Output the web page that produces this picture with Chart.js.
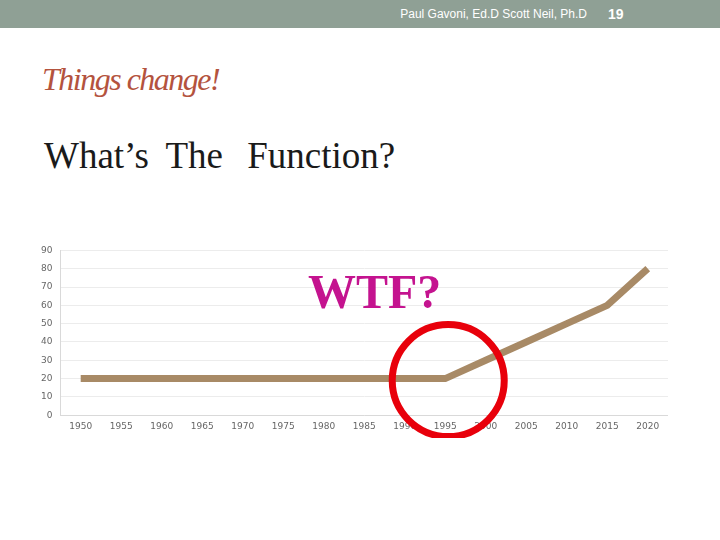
<!DOCTYPE html>
<html>
<head>
<meta charset="utf-8">
<script src="https://cdn.jsdelivr.net/npm/chart.js@4"></script>
<style>
  body { margin: 0; width: 720px; height: 540px; background: #fff; position: relative; overflow: hidden; }
  #bar { position: absolute; left: 0; top: 0; width: 720px; height: 28px; background: #8fa095; }
  #authors { position: absolute; right: 133px; top: 7px; color: #fff; font: 12px "Liberation Sans", Arial, sans-serif; }
  #page { position: absolute; left: 608px; top: 6px; color: #fff; font: bold 14px "Liberation Sans", Arial, sans-serif; }
  #sub { position: absolute; left: 42px; top: 61px; color: #b4533e; font: italic 32px "Liberation Serif", serif; letter-spacing: -1.5px; }
  #title { position: absolute; left: 44px; top: 134px; color: #1a1a1a; font: 37px "Liberation Serif", "Times New Roman", serif; word-spacing: 8px; }
  #title span { margin-left: 7px; }
  #wtf { position: absolute; left: 308px; top: 264px; color: #c4138f; font: bold 48px "Liberation Serif", serif; }
  #wrap { position: absolute; left: 33px; top: 237px; width: 635px; height: 201px; }
</style>
</head>
<body>
<div id="bar"></div>
<div id="authors">Paul Gavoni, Ed.D  Scott Neil, Ph.D</div>
<div id="page">19</div>
<div id="sub">Things change!</div>
<div id="title">What’s The <span>Function?</span></div>
<div id="wrap"><canvas id="chart"></canvas></div>
<div id="wtf">WTF?</div>
<script>
const years = ['1950', '1955', '1960', '1965', '1970', '1975', '1980', '1985', '1990', '1995', '2000', '2005', '2010', '2015', '2020'];
const values = [20, 20, 20, 20, 20, 20, 20, 20, 20, 20, 30, 40, 50, 60, 80];
const circleYear = '1995';
const circleValue = 20;

// red ring around the turning point
const ringPlugin = {
    id: 'ring',
    afterDatasetsDraw(chart) {
        const ctx = chart.ctx;
        const x = chart.scales.x.getPixelForValue(years.indexOf(circleYear));
        const y = chart.scales.y.getPixelForValue(circleValue);
        ctx.save();
        ctx.beginPath();
        ctx.ellipse(x + 3, y + 2, 56, 56, 0, 0, Math.PI * 2);
        ctx.strokeStyle = '#e8000b';
        ctx.lineWidth = 7;
        ctx.stroke();
        ctx.restore();
    }
};

new Chart(document.getElementById('chart'), {
    type: 'line',
    data: {
        labels: years,
        datasets: [{
            data: values,
            borderColor: '#a88a66',
            borderWidth: 7,
            pointRadius: 0,
            tension: 0
        }]
    },
    options: {
        responsive: true,
        maintainAspectRatio: false,
        animation: false,
        layout: { padding: { top: 4 } },
        plugins: { legend: { display: false }, tooltip: { enabled: false } },
        scales: {
            x: {
                offset: true,
                grid: { display: false, drawTicks: false },
                border: { color: '#d9d9d9' },
                ticks: { color: '#666', font: { family: 'DejaVu Sans', size: 9 }, maxRotation: 0, padding: 6 }
            },
            y: {
                min: 0,
                max: 90,
                grid: { color: '#ececec', drawTicks: false },
                border: { color: '#d9d9d9' },
                ticks: { stepSize: 10, color: '#666', font: { family: 'DejaVu Sans', size: 9 }, padding: 8 }
            }
        }
    },
    plugins: [ringPlugin]
});
</script>
</body>
</html>
